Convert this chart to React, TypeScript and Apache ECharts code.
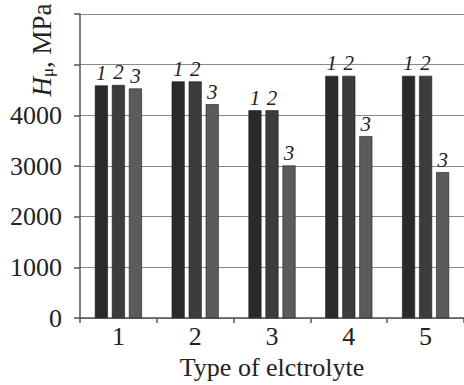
import React, { useEffect, useRef } from "react";
import * as echarts from "echarts";

const categories = ["1", "2", "3", "4", "5"];
const seriesNames = ["1", "2", "3"];
const values1 = [4590, 4670, 4100, 4780, 4780];
const values2 = [4600, 4670, 4100, 4780, 4780];
const values3 = [4530, 4220, 3010, 3590, 2880];
const yTickLabels = ["0", "1000", "2000", "3000", "4000"];
const xAxisTitle = "Type of elctrolyte";

const colors = ["#2a2a2a", "#3c3c3c", "#5b5b5b"];
const FONT = "Liberation Serif";

export default function App() {
  const ref = useRef<HTMLDivElement>(null);
  useEffect(() => {
    if (!ref.current) return;
    const chart = echarts.init(ref.current, null, { renderer: "svg" });
    const all = [values1, values2, values3];
    chart.setOption({
      animation: false,
      backgroundColor: "#ffffff",
      grid: { left: 80, right: -1, top: 14, bottom: 66, containLabel: false },
      xAxis: {
        type: "category",
        data: categories,
        boundaryGap: true,
        name: xAxisTitle,
        nameLocation: "middle",
        nameGap: 27,
        nameTextStyle: { fontFamily: FONT, fontSize: 26, color: "#222" },
        axisLine: { lineStyle: { color: "#555", width: 1.5 } },
        axisTick: { show: true, length: 5, inside: false, lineStyle: { color: "#555", width: 1.5 } },
        axisLabel: { fontFamily: FONT, fontSize: 26, color: "#222", margin: 5 },
      },
      yAxis: {
        type: "value",
        min: 0,
        max: 6000,
        interval: 1000,
        axisLine: { show: true, lineStyle: { color: "#555", width: 1.5 } },
        axisTick: { show: true, length: 6, lineStyle: { color: "#555", width: 1.5 } },
        splitLine: { show: true, lineStyle: { color: "#8a8a8a", width: 1 } },
        axisLabel: {
          fontFamily: FONT,
          fontSize: 26,
          color: "#222",
          margin: 18,
          formatter: (v: number) => {
            const s = String(v);
            return yTickLabels.includes(s) ? s : "";
          },
        },
      },
      series: all.map((vals, i) => ({
        type: "bar",
        name: seriesNames[i],
        data: vals,
        barWidth: 13,
        barGap: "31%",
        itemStyle: { color: colors[i], borderColor: "#1a1a1a", borderWidth: 0.6 },
        label: {
          show: true,
          position: "top",
          distance: 2,
          formatter: seriesNames[i],
          fontFamily: FONT,
          fontStyle: "italic",
          fontSize: 21,
          color: "#222",
        },
      })),
      graphic: [
        {
          type: "text",
          x: 42,
          y: 50,
          rotation: Math.PI / 2,
          style: {
            text: "{h|H}{s|μ}{n|, MPa}",
            textAlign: "center",
            textVerticalAlign: "middle",
            fill: "#222",
            rich: {
              h: { fontFamily: FONT, fontStyle: "italic", fontSize: 27, fill: "#222" },
              s: { fontFamily: FONT, fontSize: 17, fill: "#222", padding: [10, 0, 0, 0] },
              n: { fontFamily: FONT, fontSize: 27, fill: "#222" },
            },
          },
        },
      ],
    });
    return () => chart.dispose();
  }, []);
  return <div ref={ref} style={{ width: 464, height: 385, position: "absolute", left: 0, top: 0 }} />;
}
